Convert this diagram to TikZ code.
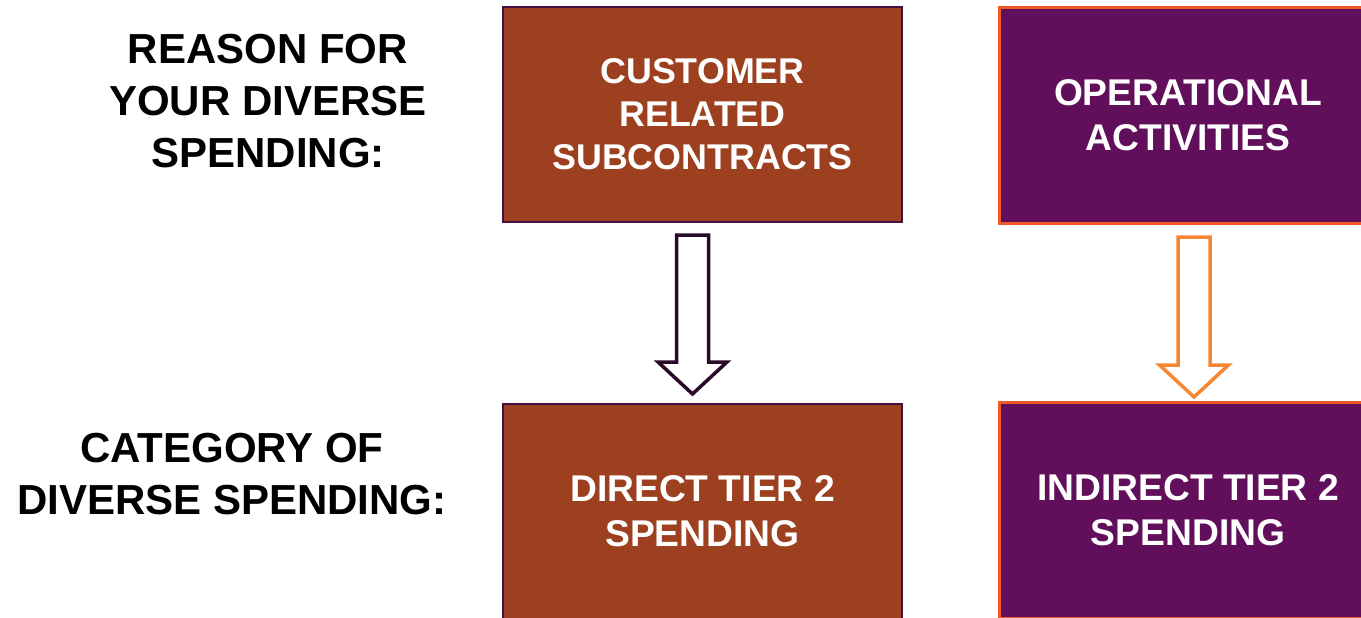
\documentclass[tikz,border=0pt]{standalone}
\usepackage{fontspec}
\setmainfont{Liberation Sans}
\usetikzlibrary{calc}
\definecolor{rust}{HTML}{9C401F}
\definecolor{plum}{HTML}{620F5B}
\definecolor{darkplum}{HTML}{45103F}
\definecolor{flame}{HTML}{F05A28}
\definecolor{inkplum}{HTML}{2A0A28}
\definecolor{tangerine}{HTML}{F58634}
% hollow block arrow from #1 (top) to #2 (tip)
\newcommand{\fatarrow}[3]{\draw[#3] ($(#1)+(-16,0)$) -- ($(#1)+(16,0)$) -- ($(#2)+(16,-32)$)
  -- ($(#2)+(34.5,-32)$) -- (#2) -- ($(#2)+(-34.5,-32)$) -- ($(#2)+(-16,-32)$) -- cycle;}
\tikzset{
  rowlabel/.style={font=\bfseries\fontsize{21}{26}\selectfont,align=center,inner sep=0pt},
  boxtext/.style={font=\bfseries\fontsize{18.6}{22.5}\selectfont,align=center,text=white,inner sep=0pt},
  rustbox/.style={boxtext,fill=rust,draw=darkplum,line width=1pt,minimum width=199.5pt,minimum height=107.5pt},
  plumbox/.style={boxtext,fill=plum,draw=flame,line width=1.5pt,minimum width=189pt,minimum height=108pt}
}
\begin{document}
\begin{tikzpicture}[x=0.5pt,y=-0.5pt]
\useasboundingbox (0,0) rectangle (1361,617);
\clip (0,0) rectangle (1361,617);
% row labels
\node[rowlabel] (reason) at (268,101) {REASON FOR\\YOUR DIVERSE\\SPENDING:};
\node[rowlabel] (category) at (232,474) {CATEGORY OF\\DIVERSE SPENDING:};
% boxes
\node[rustbox,font=\bfseries\fontsize{17.9}{21.5}\selectfont] (cust) at (702.5,114.5) {CUSTOMER\\RELATED\\SUBCONTRACTS};
\node[plumbox] (oper) at (1188,115.5) {OPERATIONAL\\ACTIVITIES};
\node[rustbox] (direct) at (702.5,511.5) {DIRECT TIER 2\\SPENDING};
\node[plumbox] (indirect) at (1188,510.5) {INDIRECT TIER 2\\SPENDING};
% arrows
\coordinate (dtop) at ($(cust.south)+(-10,12)$);
\coordinate (dtip) at ($(direct.north)+(-10,-9)$);
\coordinate (itop) at ($(oper.south)+(6,12)$);
\coordinate (itip) at ($(indirect.north)+(6,-4)$);
\fatarrow{dtop}{dtip}{draw=inkplum,fill=white,line width=1.75pt}
\fatarrow{itop}{itip}{draw=tangerine,fill=white,line width=1.75pt}
\end{tikzpicture}
\end{document}
